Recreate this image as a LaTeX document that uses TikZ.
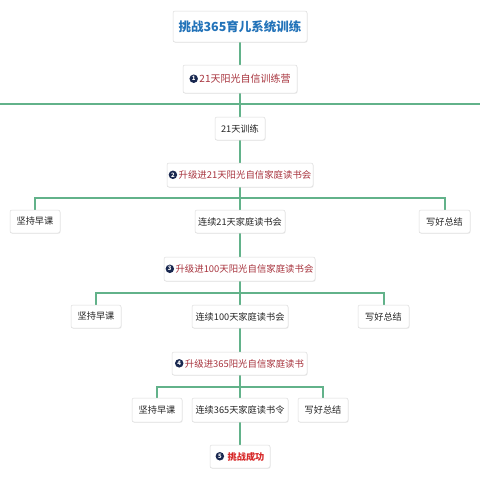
\documentclass[tikz,border=0pt]{standalone}
\usepackage{fontspec}
\setmainfont{Noto Sans CJK SC}
\usetikzlibrary{shadows}
\definecolor{linegreen}{RGB}{98,178,138}
\definecolor{titleblue}{RGB}{35,115,185}
\definecolor{stagered}{RGB}{168,52,62}
\definecolor{donered}{RGB}{215,40,40}
\definecolor{numnavy}{RGB}{25,40,80}
\newcommand{\stepnum}[1]{\tikz[baseline=-0.75ex]\node[circle,fill=numnavy,inner sep=0pt,minimum size=8.5pt,text=white,font=\fontsize{6}{6}\selectfont\bfseries]{#1};\hspace{1.5pt}}
\begin{document}
\begin{tikzpicture}[
    x=1pt, y=-1pt,
    box/.style={rectangle, draw=black!14, fill=white, rounded corners=2pt, line width=0.5pt, inner sep=0pt, align=center,
      drop shadow={opacity=0.12, shadow xshift=0.6pt, shadow yshift=-0.8pt}, font=\fontsize{9.2}{11}\selectfont, text=black!85},
    stage/.style={box, text=stagered, font=\fontsize{9.4}{11}\selectfont},
    link/.style={draw=linegreen, line width=1.1pt}
]
\useasboundingbox[fill=white] (0,0) rectangle (480,480);

% trunk
\draw[link] (240,42) -- (240,445);
\draw[link] (0,104) -- (480,104);

\node[box, minimum width=134pt, minimum height=31pt, text=titleblue, font=\fontsize{12.5}{14}\selectfont\bfseries] (title) at (240,26.5) {挑战365育儿系统训练};
\node[stage, minimum width=114pt, minimum height=28pt, font=\fontsize{10}{12}\selectfont] (camp) at (240,79) {\stepnum{1}21天阳光自信训练营};
\node[box, minimum width=50pt, minimum height=23pt] (train) at (240,128.5) {21天训练};
\node[stage, minimum width=146pt, minimum height=24pt] (read21) at (240,175) {\stepnum{2}升级进21天阳光自信家庭读书会};

% row 1
\draw[link] (35,210) |- (445,198) -- (445,210);
\node[box, minimum width=50pt, minimum height=23pt] (early1) at (35,221.5) {坚持早课};
\node[box, minimum width=90pt, minimum height=23pt] (club21) at (240,221.5) {连续21天家庭读书会};
\node[box, minimum width=51pt, minimum height=23pt] (sum1) at (444.5,221.5) {写好总结};

\node[stage, minimum width=151pt, minimum height=24pt] (read100) at (239.5,269) {\stepnum{3}升级进100天阳光自信家庭读书会};

% row 2
\draw[link] (96,305) |- (384,293) -- (384,305);
\node[box, minimum width=50pt, minimum height=23pt] (early2) at (96,316.5) {坚持早课};
\node[box, minimum width=96pt, minimum height=23pt] (club100) at (240,316.5) {连续100天家庭读书会};
\node[box, minimum width=51pt, minimum height=23pt] (sum2) at (383.5,316.5) {写好总结};

\node[stage, minimum width=135pt, minimum height=23pt] (read365) at (239.5,363.5) {\stepnum{4}升级进365阳光自信家庭读书};

% row 3
\draw[link] (157,398) |- (323,387) -- (323,398);
\node[box, minimum width=50pt, minimum height=24pt] (early3) at (157,410) {坚持早课};
\node[box, minimum width=96pt, minimum height=24pt] (club365) at (240,410) {连续365天家庭读书令};
\node[box, minimum width=50pt, minimum height=24pt] (sum3) at (323,410) {写好总结};

\node[box, minimum width=60pt, minimum height=23pt, text=donered, font=\fontsize{9.2}{11}\selectfont\bfseries] (done) at (240,456.5) {\stepnum{5}\hspace{2pt}挑战成功};

\end{tikzpicture}
\end{document}
